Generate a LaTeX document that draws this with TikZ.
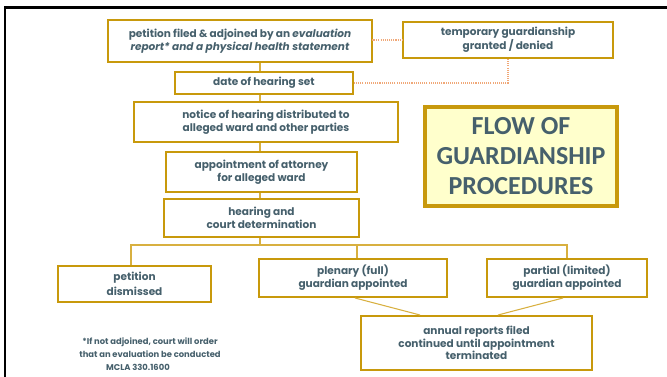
\documentclass[tikz,border=0pt]{standalone}
\usepackage{fontspec}
\setmainfont{Poppins}
\newfontfamily\titlefont{Carlito}
\usetikzlibrary{calc}
\definecolor{gold}{HTML}{C8990C}
\definecolor{lightgold}{HTML}{D8B040}
\definecolor{slate}{HTML}{46606C}
\definecolor{dots}{HTML}{F0A878}
\definecolor{paleyellow}{HTML}{FFFFCC}

\begin{document}
\begin{tikzpicture}[x=0.75pt, y=-0.75pt,
    every node/.append style={text=slate, font=\bfseries\fontsize{7.9}{9.6}\selectfont, align=center, inner sep=0pt},
    box/.style={draw=gold, line width=1.5pt, fill=white},
    link/.style={draw=lightgold, line width=0.8pt},
    side/.style={draw=dots, line width=0.8pt, dash pattern=on 0.8pt off 0.8pt}]
    \useasboundingbox (0,0) rectangle (667,377);
    \draw[line width=2pt] (5,377) -- (5,7.5) -- (667,7.5);
    % main column
    \coordinate (trunk) at (260,0);
    \node[box, minimum width=198pt, minimum height=31.5pt] (petition) at (240,41)
      {petition filed \& adjoined by an \textit{evaluation}\\ \textit{report* and a physical health statement}};
    \node[box, minimum width=157.5pt, minimum height=27pt] (temp) at (508,40)
      {temporary guardianship\\granted / denied};
    \node[box, minimum width=133.5pt, minimum height=16.5pt] (date) at (264,83) {date of hearing set};
    \node[box, minimum width=198pt, minimum height=30pt] (notice) at (266,122)
      {notice of hearing distributed to\\alleged ward and other parties};
    \node[box, minimum width=143.25pt, minimum height=30pt] (attorney) at (261.5,172)
      {appointment of attorney\\for alleged ward};
    \node[box, minimum width=146.25pt, minimum height=28.5pt] (hearing) at (261.5,218)
      {hearing and\\court determination};
    % outcomes
    \node[box, minimum width=114.75pt, minimum height=27pt] (dismissed) at (134.5,284)
      {petition\\[2pt]dismissed};
    \node[box, minimum width=141pt, minimum height=28.5pt] (plenary) at (353,278)
      {plenary (full)\\guardian appointed};
    \node[box, minimum width=120pt, minimum height=28.5pt] (partial) at (567,278)
      {partial (limited)\\guardian appointed};
    \node[box, minimum width=173.25pt, minimum height=40.5pt] (annual) at (476.5,343)
      {annual reports filed\\continued until appointment\\terminated};
    \node[draw=gold, line width=2.3pt, fill=paleyellow, minimum width=144pt, minimum height=74.25pt,
      font=\titlefont\bfseries\fontsize{19.5}{22.5}\selectfont] (title) at (521,156.5)
      {FLOW OF\\GUARDIANSHIP\\PROCEDURES};
    \node[font=\bfseries\fontsize{6.3}{9.8}\selectfont] (note) at (150,348)
      {*If not adjoined, court will order\\that an evaluation be conducted};
    \node[font=\bfseries\fontsize{6.3}{9.8}\selectfont, anchor=north] (mcla) at (138,364) {MCLA 330.1600};
    % connectors
    \coordinate (split) at (260,245);
    \draw[link] (petition.south -| trunk) -- (date.north -| trunk);
    \draw[link] (date.south -| trunk) -- (notice.north -| trunk);
    \draw[link] (notice.south -| trunk) -- (attorney.north -| trunk);
    \draw[link] (attorney.south -| trunk) -- (hearing.north -| trunk);
    \draw[link] (hearing.south -| trunk) -- (split);
    \draw[link] (dismissed.north -| 131,0) -- (131,245) -- (567,245) -- (partial.north -| 567,0);
    \draw[link] (plenary.north -| 357,0) -- (357,245);
    \draw[link] (plenary.south -| 355,0) -- (annual.north -| 420,0);
    \draw[link] (partial.south -| 563,0) -- (annual.north -| 498,0);
    \draw[side] (petition.east) -- (temp.west -| petition.east) -- (temp.west);
    \draw[side] (temp.south) -- (temp.south |- date.east) -- (date.east);
  \end{tikzpicture}
\end{document}
